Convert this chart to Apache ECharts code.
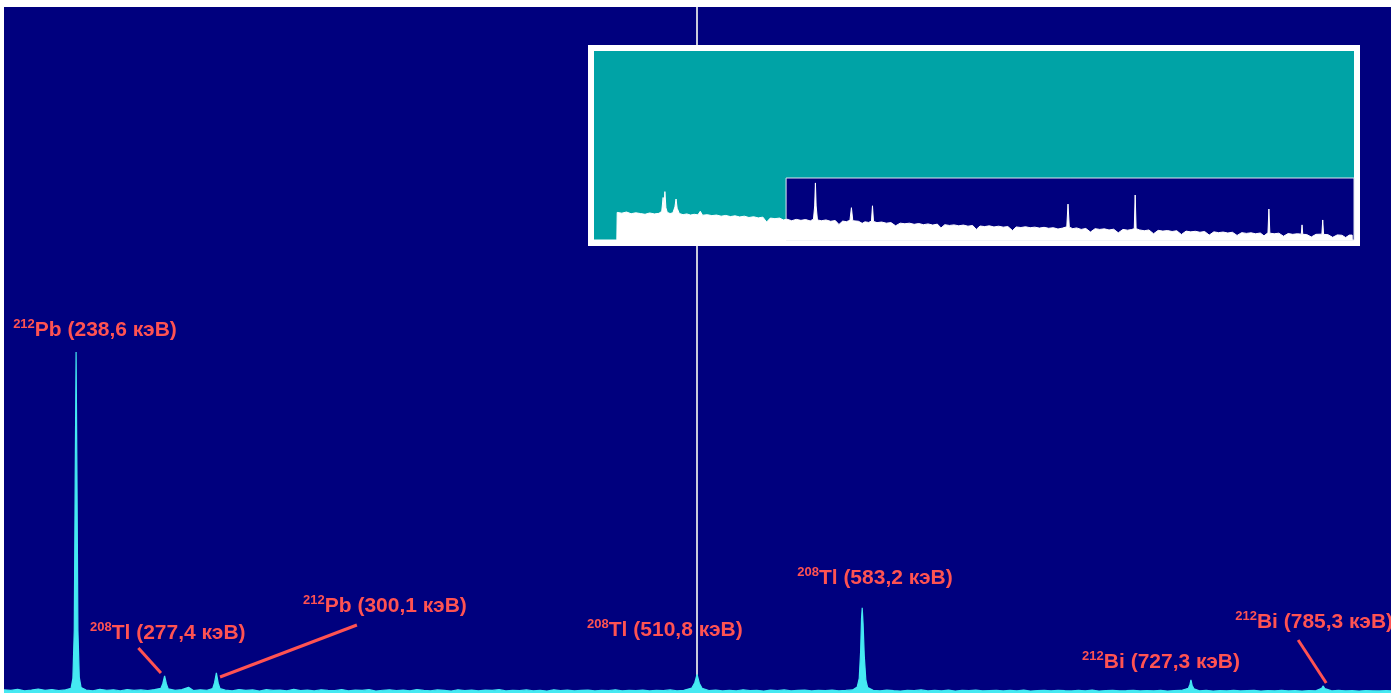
<!DOCTYPE html>
<html>
<head>
<meta charset="utf-8">
<script src="https://cdn.jsdelivr.net/npm/echarts@6/dist/echarts.min.js"></script>
<style>
  html, body { margin: 0; padding: 0; background: #ffffff; overflow: hidden; }
  #chart { width: 1391px; height: 693px; }
</style>
</head>
<body>
<div id="chart"></div>
<script>
// Thorium-chain gamma lines marked on the spectrum
const peakEnergies = [238.6, 277.4, 300.1, 510.8, 583.2, 727.3, 785.3];
const peakNuclides = ['Pb', 'Tl', 'Pb', 'Tl', 'Tl', 'Bi', 'Bi'];
const peakMassNumbers = ['212', '208', '212', '208', '208', '212', '212'];
const cursorEnergy = 510.8;

// Measured spectrum: [energy, keV ; counts]
const spectrum = [
  [207,32],[210,26],[213,38],[216,22],[219,30],[222,41],[225,27],[228,35],[231,24],[234,33],
  [236.4,48],[237.2,150],[237.8,640],[238.2,2150],[238.6,3480],[239.0,2150],[239.4,640],[240.0,160],[240.8,55],
  [243,30],[246,23],[249,37],[252,28],[255,33],[258,21],[261,36],[264,26],[267,31],[270,24],[273,35],
  [275.8,48],[276.6,95],[277.4,175],[278.2,92],[279.0,42],
  [282,27],[285,34],[287.9,58],[290,25],[293,32],[296,28],
  [298.5,46],[299.3,105],[300.1,205],[300.9,100],[301.7,44],
  [304,29],[307,22],[310,35],[313,27],[316,31],[319,20],[322,34],[325,26],[328,30],[331,23],
  [334,37],[337,25],[340,29],[343,21],[346,33],[349,27],[352,24],[355,36],[358,22],[361,30],
  [364,26],[367,34],[370,20],[373,28],[376,32],[379,24],[382,29],[385,22],[388,35],[391,26],
  [394,23],[397,31],[400,27],[403,20],[406,33],[409,25],[412,29],[415,22],[418,30],[421,26],
  [424,34],[427,21],[430,28],[433,24],[436,31],[439,23],[442,27],[445,20],[448,32],[451,25],
  [454,29],[457,22],[460,26],[463,30],[466,21],[469,28],[472,24],[475,33],[478,22],[481,27],
  [484,25],[487,30],[490,21],[493,28],[496,24],[499,31],[502,23],[505,27],
  [508.5,50],[509.8,105],[510.8,190],[511.8,100],[513.0,48],
  [516,25],[519,30],[522,21],[525,28],[528,23],[531,32],[534,24],[537,27],[540,20],[543,29],
  [546,25],[549,31],[552,22],[555,26],[558,30],[561,21],[564,27],[567,24],[570,29],[573,22],
  [576,26],[579,31],
  [581.0,60],[581.9,150],[582.5,420],[582.9,760],[583.2,870],[583.6,700],[584.1,380],[584.8,130],[585.6,55],
  [588,27],[591,22],[594,29],[597,24],[600,20],[603,28],[606,25],[609,31],[612,21],[615,26],
  [618,23],[621,29],[624,20],[627,27],[630,24],[633,30],[636,22],[639,25],[642,28],[645,21],
  [648,26],[651,23],[654,29],[657,20],[660,25],[663,27],[666,22],[669,28],[672,24],[675,21],
  [678,26],[681,23],[684,29],[687,20],[690,25],[693,27],[696,22],[699,24],[702,28],[705,21],
  [708,25],[711,23],[714,27],[717,20],[720,24],[723,26],
  [726.2,48],[726.9,90],[727.3,135],[727.8,80],[728.6,44],
  [731,22],[734,27],[737,20],[740,25],[743,23],[746,28],[749,21],[752,24],[755,26],[758,20],
  [761,25],[764,22],[767,27],[770,21],[773,24],[776,20],[779,25],[782,23],
  [784.6,48],[785.3,72],[786.0,44],
  [789,21],[792,26],[795,22],[798,24],[801,20],[804,25],[807,23],[810,21],[813,24],[815,22]
];

// Full-range overview: [energy, keV ; relative counts]
const overview = [
  [0,0],[24.6,0],[25,14.6],[30,14.2],[35,14.8],[40,13.9],[45,14.4],[50,14.0],[55,13.6],[60,14.3],
  [65,13.8],[70,14.1],[73,15.2],[74.5,22.5],[75.3,16],[76.4,25.6],[77.5,17],[79,14.6],[82,14],[85,14.4],
  [87.2,17.5],[88.4,21.7],[89.6,16.8],[92,14],[96,13.4],[100,13.8],[104,13.2],[108,13.6],[112,13.3],[114.5,15.2],
  [117,13.1],[122,13.4],[127,12.9],[132,13.2],[137,12.6],[142,13],[147,12.4],[152,12.8],[157,12.2],[162,12.6],
  [167,11.9],[172,12.3],[177,11.7],[182,12.1],[186,9.5],[190,11.6],[195,11.3],[200,11.6],[204,10.6],[208,11],
  [213,10.2],[218,10.9],[223,10.4],[228,10.8],[233,10.1],[236.5,11],[237.8,18],[238.6,30.2],[239.4,18],[240.8,10.6],
  [245,10.2],[250,10.6],[255,9.9],[260,10.3],[264,8.2],[268,10.0],[272,9.7],[275.8,10.4],[277.4,17.1],[278.9,10.2],
  [281,9.5],[285,9.9],[289,8.8],[292,9.6],[296,9.3],[299.0,10],[300.1,18.1],[301.2,9.8],[305,9.2],[310,9.5],
  [315,8.9],[320,9.2],[325,7.5],[330,8.9],[335,8.6],[340,8.9],[345,8.3],[350,8.7],[355,8.1],[360,8.5],
  [365,7.9],[370,8.4],[374,6.4],[378,8.1],[383,7.7],[388,8.0],[393,7.5],[398,7.9],[403,7.3],[408,7.7],
  [412,5.6],[416,7.4],[421,7.1],[426,7.5],[431,6.9],[436,7.3],[441,6.8],[446,7.1],[451,5.0],[455,6.9],
  [460,6.6],[465,7.0],[470,6.5],[475,6.8],[480,6.3],[485,6.7],[490,6.2],[495,6.5],[500,5.8],[505,6.3],
  [509.5,7],[510.8,19],[512.2,6.8],[516,6.0],[520,6.4],[525,5.6],[530,6.1],[535,4.2],[540,6.0],[545,5.6],
  [550,5.9],[555,5.3],[560,5.7],[565,3.8],[570,5.6],[575,5.2],[579,5.5],[582.2,6],[583.2,23.8],[584.2,6],
  [588,5.3],[593,4.9],[598,5.3],[603,3.3],[608,5.1],[613,4.7],[618,5.0],[623,4.5],[628,4.9],[633,2.9],
  [638,4.7],[643,4.3],[648,4.6],[653,4.1],[658,4.5],[663,2.6],[668,4.3],[673,3.9],[678,4.2],[683,3.7],
  [688,4.1],[693,2.4],[698,3.9],[703,3.5],[708,3.8],[713,3.3],[718,3.7],[722,2.2],[726.3,3.8],[727.3,16.4],
  [728.3,3.6],[733,3.3],[738,3.6],[743,2.0],[748,3.4],[753,3.0],[758,3.3],[762.2,3.1],[763,8],[763.8,3.0],
  [768,2.9],[773,1.6],[778,3.0],[784.4,3.1],[785.3,10.6],[786.2,3.0],[791,2.8],[796,1.4],[801,2.7],[806,2.5],
  [810,1.3],[814,2.6],[817,2.6],[817.1,0]
];

// Axis ranges
const mainEnergyRange = [207, 815];
const mainCountRange = [0, 7000];
const overviewEnergyRange = [0, 819];
const overviewCountRange = [0, 100];
const overviewWindowTop = 32.8;

// Label anchors and leader lines, in data coordinates of the main view
const labelAnchors = [[211.0,3704],[244.7,612],[338.1,888],[462.6,643],[554.7,1173],[679.6,316],[746.7,724]];
const leaderLines = [
  [[265.9,459],[275.8,204]],
  [[361.7,694],[301.7,163]],
  [[774.3,541],[786.6,102]]
];

const NAVY = '#00007e';
const TEAL = '#00a3a6';
const CYAN = '#45e9f2';
const RED = '#ff5252';
const FONT = 'Liberation Sans, Arial, sans-serif';

const formatEnergy = e => e.toFixed(1).replace('.', ',');

const labelPoints = peakEnergies.map((e, i) => ({
  coord: labelAnchors[i],
  symbolSize: 0,
  label: {
    show: true,
    position: 'right',
    distance: 0,
    formatter: '{s|' + peakMassNumbers[i] + '}{m|' + peakNuclides[i] + ' (' + formatEnergy(e) + ' кэВ)}',
    rich: {
      s: { fontFamily: FONT, fontWeight: 'bold', fontSize: 13, color: RED, verticalAlign: 'top', lineHeight: 14 },
      m: { fontFamily: FONT, fontWeight: 'bold', fontSize: 21, color: RED, lineHeight: 24 }
    }
  }
}));

const markLines = [
  { xAxis: cursorEnergy, lineStyle: { color: '#c9cbdc', width: 2, type: 'solid' } }
].concat(leaderLines.map(l => [
  { coord: l[0], lineStyle: { color: RED, width: 3, type: 'solid' } },
  { coord: l[1] }
]));

const chart = echarts.init(document.getElementById('chart'), null, { renderer: 'canvas' });

chart.setOption({
  animation: false,
  backgroundColor: '#ffffff',
  grid: [
    { left: 4, top: 7, right: 0, bottom: 0, show: true, backgroundColor: NAVY, borderWidth: 0, z: 0 },
    { left: 594, top: 51, width: 760, height: 189, show: true, backgroundColor: TEAL, borderWidth: 0, z: 4 }
  ],
  graphic: [
    { type: 'rect', z: 3, shape: { x: 588, y: 45, width: 772, height: 201 }, style: { fill: '#ffffff' } }
  ],
  xAxis: [
    { type: 'value', gridIndex: 0, min: mainEnergyRange[0], max: mainEnergyRange[1], show: false, splitLine: { show: false } },
    { type: 'value', gridIndex: 1, min: overviewEnergyRange[0], max: overviewEnergyRange[1], show: false, splitLine: { show: false } }
  ],
  yAxis: [
    { type: 'value', gridIndex: 0, min: mainCountRange[0], max: mainCountRange[1], show: false, splitLine: { show: false } },
    { type: 'value', gridIndex: 1, min: overviewCountRange[0], max: overviewCountRange[1], show: false, splitLine: { show: false } }
  ],
  series: [
    {
      type: 'line',
      xAxisIndex: 0,
      yAxisIndex: 0,
      z: 2,
      data: spectrum,
      showSymbol: false,
      symbol: 'none',
      lineStyle: { color: CYAN, width: 1.2 },
      areaStyle: { color: CYAN, opacity: 1 },
      markLine: {
        z: 2,
        silent: true,
        symbol: ['none', 'none'],
        label: { show: false },
        data: markLines
      },
      markPoint: {
        z: 8,
        silent: true,
        symbol: 'circle',
        data: labelPoints
      }
    },
    {
      type: 'line',
      xAxisIndex: 1,
      yAxisIndex: 1,
      z: 6,
      data: overview,
      showSymbol: false,
      symbol: 'none',
      lineStyle: { color: '#ffffff', width: 1 },
      areaStyle: { color: '#ffffff', opacity: 1 },
      markArea: {
        z: 5,
        silent: true,
        itemStyle: { color: NAVY, borderColor: '#dfe6f0', borderWidth: 1 },
        data: [[
          { xAxis: mainEnergyRange[0], yAxis: overviewWindowTop },
          { xAxis: overviewEnergyRange[1], yAxis: 0 }
        ]]
      }
    }
  ]
});
</script>
</body>
</html>
